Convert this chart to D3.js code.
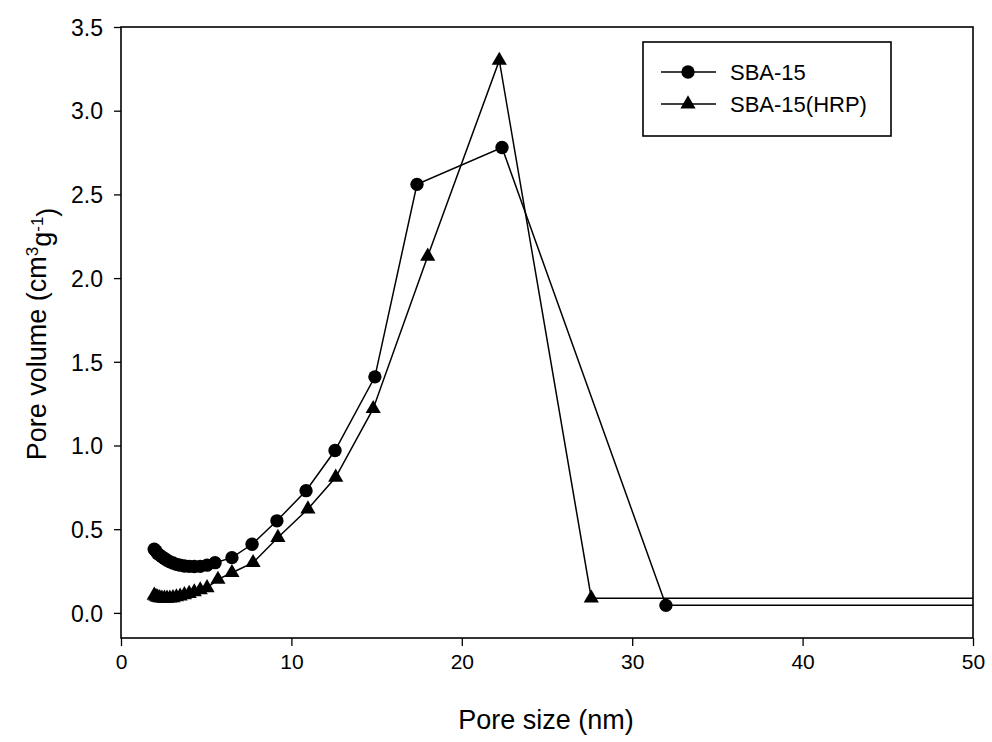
<!DOCTYPE html>
<html>
<head>
<meta charset="utf-8">
<script src="https://cdn.jsdelivr.net/npm/d3@7/dist/d3.min.js"></script>
<style>
  body { margin: 0; background: #fff; }
  svg { display: block; font-family: "Liberation Sans", Arial, sans-serif; }
</style>
</head>
<body>
<svg id="chart" width="992" height="742"></svg>
<script>
// ---- data ----
const xTicks = [0, 10, 20, 30, 40, 50];
const yTicks = [0.0, 0.5, 1.0, 1.5, 2.0, 2.5, 3.0, 3.5];

const sbaX = [1.95, 2.05, 2.15, 2.27, 2.4, 2.55, 2.7, 2.87, 3.05, 3.25, 3.47, 3.72, 4.0, 4.3, 4.65, 5.05, 5.52, 6.51, 7.69, 9.15, 10.86, 12.56, 14.9, 17.37, 22.36, 31.98, 80];
const sbaY = [0.38, 0.37, 0.355, 0.345, 0.335, 0.325, 0.315, 0.305, 0.298, 0.29, 0.285, 0.28, 0.278, 0.277, 0.278, 0.285, 0.30, 0.33, 0.41, 0.55, 0.73, 0.97, 1.41, 2.56, 2.78, 0.045, 0.045];

const hrpX = [1.95, 2.05, 2.15, 2.27, 2.4, 2.55, 2.7, 2.87, 3.05, 3.25, 3.47, 3.72, 4.0, 4.3, 4.65, 5.05, 5.69, 6.51, 7.75, 9.21, 10.97, 12.6, 14.8, 18.0, 22.2, 27.6, 80];
const hrpY = [0.105, 0.098, 0.093, 0.09, 0.088, 0.087, 0.087, 0.088, 0.09, 0.095, 0.10, 0.108, 0.115, 0.125, 0.137, 0.15, 0.20, 0.24, 0.30, 0.45, 0.62, 0.81, 1.22, 2.13, 3.30, 0.088, 0.088];

const seriesNames = ["SBA-15", "SBA-15(HRP)"];

// ---- layout ----
const svg = d3.select("#chart");
const mL = 121, mR = 973, mT = 27, mB = 638;

const x = d3.scaleLinear().domain([0, 50]).range([mL, mR]);
const y = d3.scaleLinear().domain([-0.15, 3.5]).range([mB, mT]);

svg.append("defs").append("clipPath").attr("id", "clip")
  .append("rect").attr("x", mL).attr("y", mT).attr("width", mR - mL).attr("height", mB - mT);

// axes
const xAxis = svg.append("g").attr("transform", `translate(0,${mB})`)
  .call(d3.axisBottom(x).tickValues(xTicks).tickFormat(d3.format("d")).tickSize(8).tickSizeOuter(0));
const yAxis = svg.append("g").attr("transform", `translate(${mL},0)`)
  .call(d3.axisLeft(y).tickValues(yTicks).tickFormat(d3.format(".1f")).tickSize(7).tickSizeOuter(0));

[xAxis, yAxis].forEach(g => {
  g.select(".domain").remove();
  g.selectAll(".tick line").attr("stroke", "#000").attr("stroke-width", 1.3);
  g.selectAll(".tick text").attr("fill", "#000");
});
xAxis.selectAll(".tick text").style("font-size", "21px").attr("dy", "0").attr("y", 31);
yAxis.selectAll(".tick text").style("font-size", "23px").attr("x", -18).attr("dy", "0.36em");

// frame
svg.append("rect").attr("x", mL).attr("y", mT).attr("width", mR - mL).attr("height", mB - mT)
  .attr("fill", "none").attr("stroke", "#000").attr("stroke-width", 1.6);

// axis titles
svg.append("text").attr("x", 546).attr("y", 729)
  .attr("text-anchor", "middle").style("font-size", "27px").attr("fill", "#000").text("Pore size (nm)");

const yl = svg.append("text").attr("transform", "translate(46,334) rotate(-90)")
  .attr("text-anchor", "middle").style("font-size", "27px").attr("fill", "#000");
yl.append("tspan").text("Pore volume (cm");
yl.append("tspan").attr("dy", "-0.5em").style("font-size", "17px").text("3");
yl.append("tspan").attr("dy", "0.5em").text("g");
yl.append("tspan").attr("dy", "-0.5em").style("font-size", "17px").text("-1");
yl.append("tspan").attr("dy", "0.5em").text(")");

// series
const sba = sbaX.map((d, i) => [d, sbaY[i]]);
const hrp = hrpX.map((d, i) => [d, hrpY[i]]);
const line = d3.line().x(d => x(d[0])).y(d => y(d[1]));
const plot = svg.append("g").attr("clip-path", "url(#clip)");

plot.append("path").datum(sba).attr("d", line).attr("fill", "none").attr("stroke", "#000").attr("stroke-width", 1.5);
plot.append("path").datum(hrp).attr("d", line).attr("fill", "none").attr("stroke", "#000").attr("stroke-width", 1.5);

const circleSym = d3.symbol().type(d3.symbolCircle).size(140);
const triSym = d3.symbol().type(d3.symbolTriangle).size(100);

plot.selectAll(".c").data(sba).join("path")
  .attr("transform", d => `translate(${x(d[0])},${y(d[1])})`)
  .attr("d", circleSym).attr("fill", "#000");
plot.selectAll(".t").data(hrp).join("path")
  .attr("transform", d => `translate(${x(d[0])},${y(d[1])})`)
  .attr("d", triSym).attr("fill", "#000");

// legend
const lg = svg.append("g");
lg.append("rect").attr("x", 643).attr("y", 42).attr("width", 248).attr("height", 94)
  .attr("fill", "#fff").attr("stroke", "#000").attr("stroke-width", 1.6);
const syms = [circleSym, triSym];
seriesNames.forEach((name, i) => {
  const yy = 72 + i * 32;
  lg.append("line").attr("x1", 661).attr("x2", 716).attr("y1", yy).attr("y2", yy)
    .attr("stroke", "#000").attr("stroke-width", 1.5);
  lg.append("path").attr("transform", `translate(688,${yy})`).attr("d", syms[i]).attr("fill", "#000");
  lg.append("text").attr("x", 730).attr("y", yy + 8).style("font-size", "22px").attr("fill", "#000").text(name);
});
</script>
</body>
</html>
